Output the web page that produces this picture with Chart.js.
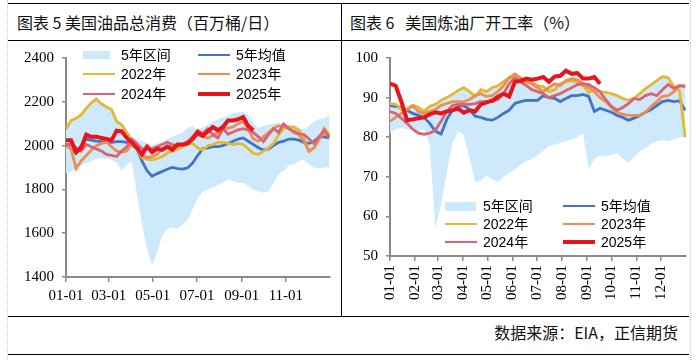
<!DOCTYPE html>
<html>
<head>
<meta charset="utf-8">
<script src="https://cdn.jsdelivr.net/npm/chart.js@4.4.1/dist/chart.umd.min.js"></script>
<style>
  body { margin: 0; width: 696px; height: 360px; background: #fff; position: relative; overflow: hidden; font-family: "Noto Sans CJK SC", sans-serif; }
  .hl { position: absolute; height: 1px; background: #000; left: 8px; width: 681px; }
  .vl { position: absolute; width: 1px; background: #000; }
  .dot { position: absolute; top: 0; height: 360px; border-left: 1px dotted #c8c8c8; }
  .title { position: absolute; top: 11px; font-size: 16px; line-height: 22px; white-space: pre; color: #111; }
  .src { position: absolute; right: 18px; top: 321px; font-size: 16px; line-height: 22px; color: #111; }
  canvas { position: absolute; }
  .item { position: absolute; height: 18px; line-height: 18px; white-space: nowrap; font-family: "Liberation Sans", "Noto Sans CJK SC", sans-serif; font-size: 14px; color: #000; }
  .mk { position: absolute; left: 0; }
  .item span { position: absolute; left: 38px; top: 0; }
</style>
</head>
<body>
<div class="dot" style="left:7px"></div>
<div class="dot" style="left:690px"></div>
<div class="hl" style="top:3px"></div>
<div class="hl" style="top:40px"></div>
<div class="hl" style="top:316px"></div>
<div class="hl" style="top:354px"></div>
<div class="vl" style="left:341px; top:3px; height:313px"></div>
<div class="title" style="left:17px">图表 5 美国油品总消费（百万桶/日）</div>
<div class="title" style="left:350px">图表 6   美国炼油厂开工率（%）</div>
<div class="src">数据来源：EIA，正信期货</div>
<canvas id="c1" width="333" height="275" style="left:8px; top:41px"></canvas>
<canvas id="c2" width="348" height="275" style="left:341px; top:41px"></canvas>
<script>
// weekly points, x = days from 01-01
const weekDays = Array.from({ length: 53 }, (_, i) => i * 7);
const seriesNames = ['5年区间', '5年均值', '2022年', '2023年', '2024年', '2025年'];

// 图表5 美国油品总消费（百万桶/日）
const consTickDays = [0, 59, 120, 181, 243, 304];
const consTickLabels = ['01-01', '03-01', '05-01', '07-01', '09-01', '11-01'];
const consBandHigh = [2085,2120,2130,2150,2180,2205,2220,2200,2185,2170,2120,2100,2070,2040,2030,2020,2010,2000,2010,2020,2030,2040,2050,2060,2080,2090,2070,2085,2095,2110,2120,2130,2135,2150,2150,2155,2140,2100,2080,2090,2095,2100,2105,2095,2095,2085,2080,2075,2090,2110,2120,2125,2140];
const consBandLow = [1875,1880,1895,1910,1920,1930,1940,1945,1940,1935,1920,1885,1915,1925,1780,1640,1530,1455,1510,1590,1620,1625,1620,1640,1660,1710,1760,1790,1800,1810,1820,1830,1845,1840,1830,1830,1815,1800,1790,1785,1790,1830,1870,1885,1910,1915,1930,1935,1915,1900,1895,1900,1900];
const consAvg = [2005,1985,1965,2000,2030,2025,2020,2018,2015,2015,2018,2018,2015,2005,1985,1930,1885,1860,1872,1882,1892,1900,1895,1893,1898,1920,1955,1985,1990,1995,1995,2000,2010,2020,2030,2035,2020,2005,1990,1980,1985,2000,2015,2020,2030,2030,2025,2015,2010,2020,2040,2040,2035];
const cons2022 = [2075,2115,2125,2140,2170,2195,2212,2190,2175,2165,2110,2095,2060,2020,1985,1945,1938,1935,1940,1950,1965,1975,1985,1995,2005,2010,1990,1980,2000,2005,2015,2015,2010,2005,2010,2005,1985,1965,1960,1975,1990,2010,2050,2077,2085,2085,2070,2032,1973,1990,2030,2080,2050];
const cons2023 = [2000,1985,1895,1930,1955,1980,2000,2010,2015,1995,1975,1970,1975,2010,1995,1960,1945,1950,1960,1985,1995,2000,1998,2005,2020,2040,2050,2040,2035,2045,2060,2075,2080,2085,2100,2110,2075,2030,2020,2040,2060,2080,2090,2090,2080,2060,2050,2020,1975,1990,2030,2060,2040];
const cons2024 = [2005,2005,1990,1975,2005,1995,1985,1975,1960,1955,1950,1975,1995,2030,2010,1985,1985,1985,1995,2005,2015,2005,2000,2005,2015,2040,2070,2055,2077,2050,2035,2077,2052,2062,2072,2077,2070,2060,2040,2018,2050,2077,2060,2099,2077,2065,2054,2050,2030,2009,2040,2072,2040];
const cons2025 = [2025,2025,1970,1990,2050,2040,2040,2035,2030,2025,2068,2065,2035,2015,1990,1960,1995,1970,1985,1980,1995,1980,2005,2005,2010,2030,2060,2045,2065,2085,2070,2085,2115,2115,2120,2130,2090,2070];

// 图表6 美国炼油厂开工率（%）
const refTickDays = [0, 31, 59, 90, 120, 151, 181, 212, 243, 273, 304, 334];
const refTickLabels = ['01-01', '02-01', '03-01', '04-01', '05-01', '06-01', '07-01', '08-01', '09-01', '10-01', '11-01', '12-01'];
const refBandHigh = [89,88.5,87.5,87.5,88.5,88,87,88,88.5,89.5,90.3,91,92,92.8,91.8,90.8,92.3,91.8,92.8,93.3,94.3,95.3,96.3,95.3,94.3,94,93.3,93,92.8,93.8,93.8,94.5,95,94.8,93.8,93.5,92.8,91.8,91.5,91.3,90.8,90,89.5,90,91.3,92.5,93.5,94.5,95.5,95.3,93,93.3,93.3];
const refBandLow = [81,82,82.3,82,81.8,81.5,82,78,57,63,71,78.5,81.5,80.5,75,68.6,69,70.3,69.4,68.6,70,71,71.8,73.1,74,74.5,75.5,76.5,77.8,78,78.6,79,79.5,80,81,72,74.5,75.3,75.3,75.5,76,74.5,73.6,75,76.5,77.3,78.3,79,79.3,79,79.5,80,80];
const refAvg = [88,87.8,87.5,86.8,86,85.5,85,83.5,81.5,80.8,84.5,86.8,87.8,88,87,85.3,85,84.5,84.3,85,86,86.8,88.5,89,89.3,89.3,89.3,90.5,90,89.8,89,89.8,90.5,90.5,90.8,90.3,86.5,87.3,86.8,86.3,85.5,85,84.3,84.8,85.5,86.3,87,88,89,89.3,89,89.2,86.8];
const ref2022 = [88.5,88.3,87,87,88,87.5,86.5,87.8,88.3,89.3,90,90.8,91.8,92.5,91.5,90.3,92,91.5,92.5,93,94,95,95,94.3,94,93.8,93,92.8,91.5,92,93.5,94,94.3,93.8,93,91.3,92,91.5,91.3,91,90.5,89.8,89.3,89.8,91,92.3,93.3,94.3,95.3,95,92.8,91.8,80];
const ref2023 = [84,85,86,87,88,86.5,86,86.5,87,88,88.5,89,89,89,89.5,90.5,91,90.3,90.5,91.5,93,95,96,95,94,93.5,92.5,91.5,92.5,93.5,93,94.3,94.8,94.5,93.5,92.5,91.5,90,89,87.5,86.3,85.8,85.5,85.5,85.5,86.3,87.8,89,90.3,90.5,91.5,93,93];
const ref2024 = [86.5,86,84.8,83.5,82,81,80.7,81,81.8,84,86.5,88,88.3,88.3,88.3,88.5,89,89,89,89.5,91,93.5,95,94,93,92,91.5,91,90,90.5,91,91.8,92.5,93.3,93.5,93.3,92.5,91.5,89.5,87.8,86.8,87.5,88.5,89.8,89.5,90.5,91,90.5,92,93.3,92.3,93,92.8];
const ref2025 = [93.5,93,89,84.3,84.5,84.8,85,85.8,86.3,86,86.5,86.8,87.2,86.2,86.8,86.5,88.3,88.8,89.2,90.2,91,90.3,94,94.2,94.8,94.5,94.8,95.2,94,95.3,95.5,96.8,96,96.2,94.8,94.8,95.2,93.5];

const colors = ['#cde9fb', '#4472c4', '#e4b830', '#ee8d4e', '#db6470', '#e8131b'];
const widths = [0, 2.8, 2.8, 2.8, 2.8, 4];
const axisColor = '#8a8a8a';

const pts = values => values.map((v, i) => ({ x: weekDays[i], y: v }));

function makeDatasets(high, low, lines) {
  // lines: [avg, 2022, 2023, 2024, 2025]; later years drawn on top
  const sets = [];
  for (let k = lines.length - 1; k >= 0; k--) {
    sets.push({
      label: seriesNames[k + 1], data: pts(lines[k]), borderColor: colors[k + 1],
      borderWidth: widths[k + 1], pointRadius: 0, tension: 0, fill: false
    });
  }
  sets.push({ label: seriesNames[0], data: pts(high), borderWidth: 0, pointRadius: 0, backgroundColor: colors[0], fill: '+1' });
  sets.push({ label: 'low', data: pts(low), borderWidth: 0, pointRadius: 0, fill: false });
  return sets;
}

function makeChart(id, o) {
  const tickFont = { family: 'Liberation Serif', size: 15 };
  return new Chart(document.getElementById(id), {
    type: 'line',
    data: { datasets: makeDatasets(o.high, o.low, o.lines) },
    options: {
      responsive: false,
      animation: false,
      layout: { padding: { top: 14, right: o.padRight, left: 0, bottom: 0 } },
      plugins: { legend: { display: false }, tooltip: { enabled: false } },
      scales: {
        x: {
          type: 'linear', min: 0, max: 365,
          afterBuildTicks: s => { s.ticks = o.tickDays.map(v => ({ value: v })); },
          afterFit: s => { s.height = o.xHeight; },
          grid: { drawOnChartArea: false, tickLength: 5, color: axisColor, lineWidth: 1.5 },
          border: { color: axisColor, width: 2 },
          ticks: {
            autoSkip: false, minRotation: o.rot, maxRotation: o.rot, padding: o.xPad,
            color: '#000', font: tickFont,
            callback: (v, i) => o.tickLabels[i]
          }
        },
        y: {
          min: o.yMin, max: o.yMax,
          afterFit: s => { s.width = o.yWidth; },
          grid: { drawOnChartArea: false, tickLength: 4, color: axisColor, lineWidth: 1.5 },
          border: { color: axisColor, width: 2 },
          ticks: { stepSize: o.step, padding: 8, color: '#000', font: tickFont, callback: v => String(v) }
        }
      }
    }
  });
}

makeChart('c1', {
  high: consBandHigh, low: consBandLow, lines: [consAvg, cons2022, cons2023, cons2024, cons2025],
  tickDays: consTickDays, tickLabels: consTickLabels, rot: 0, xPad: 5, xHeight: 39,
  yMin: 1400, yMax: 2400, step: 200, yWidth: 58, padRight: 11
});
makeChart('c2', {
  high: refBandHigh, low: refBandLow, lines: [refAvg, ref2022, ref2023, ref2024, ref2025],
  tickDays: refTickDays, tickLabels: refTickLabels, rot: 90, xPad: 4, xHeight: 60,
  yMin: 50, yMax: 100, step: 10, yWidth: 49, padRight: 3
});

// legends drawn over the plots, 2 columns x 3 rows
function legend(x0, colGap, rowYs, bandW, bandH) {
  seriesNames.forEach((name, k) => {
    const x = x0 + (k % 2) * colGap;
    const y = rowYs[Math.floor(k / 2)];
    const item = document.createElement('div');
    item.className = 'item';
    item.style.left = x + 'px';
    item.style.top = (y - 9) + 'px';
    const mk = document.createElement('div');
    mk.className = 'mk';
    if (k === 0) {
      mk.style.width = bandW + 'px'; mk.style.height = bandH + 'px';
      mk.style.top = (9 - bandH / 2) + 'px';
    } else {
      mk.style.width = '32px'; mk.style.height = widths[k] + 'px';
      mk.style.top = (9 - widths[k] / 2) + 'px';
    }
    mk.style.background = colors[k];
    const t = document.createElement('span');
    t.textContent = name;
    item.appendChild(mk);
    item.appendChild(t);
    document.body.appendChild(item);
  });
}
legend(83, 115, [55, 74, 94], 27, 8);
legend(445, 118, [206, 224, 242], 31, 9);
</script>
</body>
</html>
